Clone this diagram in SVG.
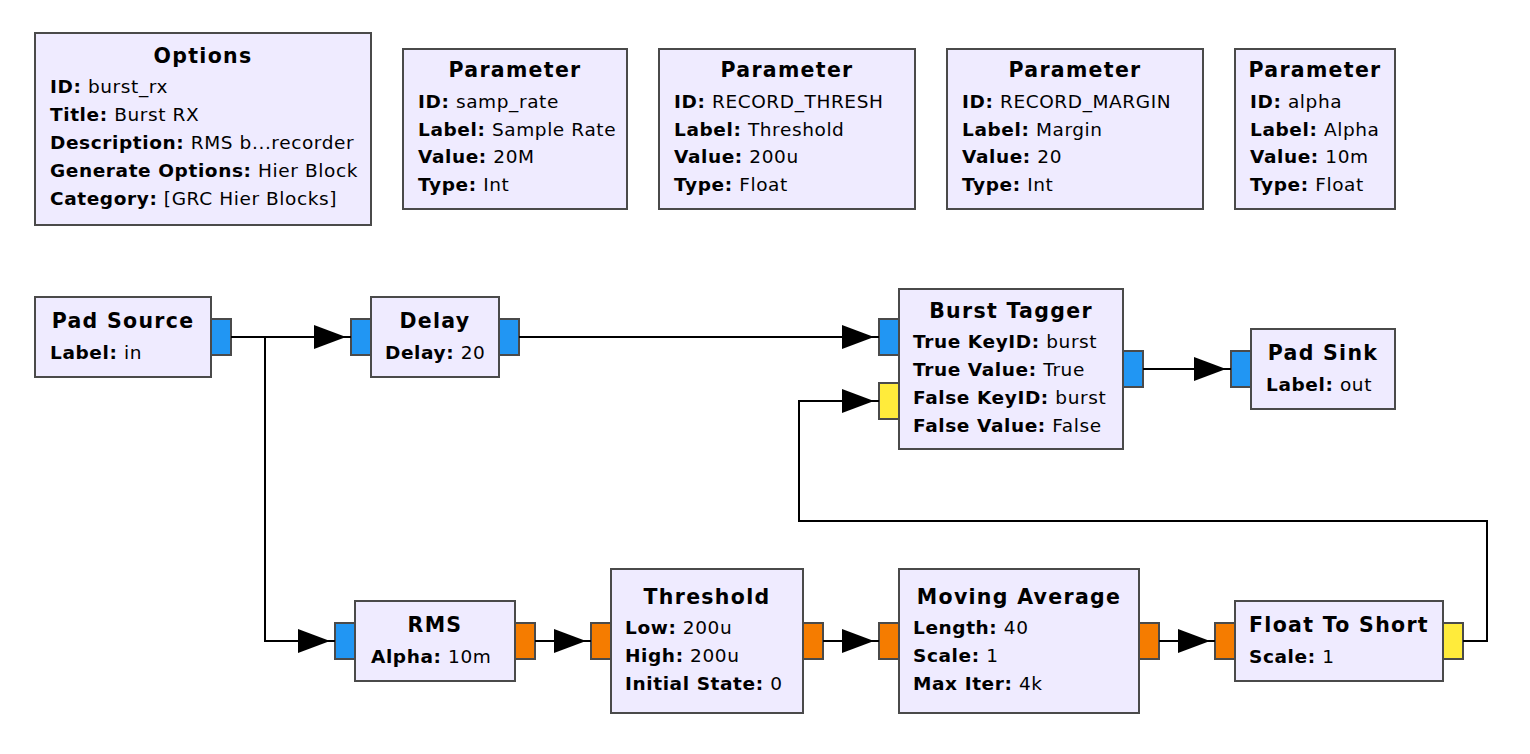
<svg xmlns="http://www.w3.org/2000/svg" width="1530" height="754" viewBox="0 0 1530 754">
<defs>
<style>
.box{fill:#EFEBFF;stroke:#4a4a4a;stroke-width:2}
.pb{fill:#2196F3;stroke:#4a4a4a;stroke-width:2}
.po{fill:#F57C00;stroke:#4a4a4a;stroke-width:2}
.py{fill:#FFEB3B;stroke:#4a4a4a;stroke-width:2}
.t{font-family:"DejaVu Sans","Liberation Sans",sans-serif;font-weight:bold;font-size:20.5px;letter-spacing:1.3px;text-anchor:middle;fill:#000}
.p{font-family:"DejaVu Sans","Liberation Sans",sans-serif;font-size:18.5px;letter-spacing:0.6px;fill:#000}
.p tspan.k{font-weight:bold}
.w{fill:none;stroke:#000;stroke-width:2}
.ah{fill:#000}
</style>
</defs>
<rect width="1530" height="754" fill="#fff"/>

<g id="options">
<rect class="box" x="35" y="33" width="336" height="192"/>
<text class="t" x="203" y="63">Options</text>
<text class="p" x="50" y="93"><tspan class="k">ID:</tspan> burst_rx</text>
<text class="p" x="50" y="121"><tspan class="k">Title:</tspan> Burst RX</text>
<text class="p" x="50" y="149"><tspan class="k">Description:</tspan> RMS b...recorder</text>
<text class="p" x="50" y="177"><tspan class="k">Generate Options:</tspan> Hier Block</text>
<text class="p" x="50" y="205"><tspan class="k">Category:</tspan> [GRC Hier Blocks]</text>
</g>

<g id="param_samp_rate">
<rect class="box" x="403" y="49" width="224" height="160"/>
<text class="t" x="515" y="77">Parameter</text>
<text class="p" x="418" y="108"><tspan class="k">ID:</tspan> samp_rate</text>
<text class="p" x="418" y="136"><tspan class="k">Label:</tspan> Sample Rate</text>
<text class="p" x="418" y="163"><tspan class="k">Value:</tspan> 20M</text>
<text class="p" x="418" y="191"><tspan class="k">Type:</tspan> Int</text>
</g>

<g id="param_record_thresh">
<rect class="box" x="659" y="49" width="256" height="160"/>
<text class="t" x="787" y="77">Parameter</text>
<text class="p" x="674" y="108"><tspan class="k">ID:</tspan> RECORD_THRESH</text>
<text class="p" x="674" y="136"><tspan class="k">Label:</tspan> Threshold</text>
<text class="p" x="674" y="163"><tspan class="k">Value:</tspan> 200u</text>
<text class="p" x="674" y="191"><tspan class="k">Type:</tspan> Float</text>
</g>

<g id="param_record_margin">
<rect class="box" x="947" y="49" width="256" height="160"/>
<text class="t" x="1075" y="77">Parameter</text>
<text class="p" x="962" y="108"><tspan class="k">ID:</tspan> RECORD_MARGIN</text>
<text class="p" x="962" y="136"><tspan class="k">Label:</tspan> Margin</text>
<text class="p" x="962" y="163"><tspan class="k">Value:</tspan> 20</text>
<text class="p" x="962" y="191"><tspan class="k">Type:</tspan> Int</text>
</g>

<g id="param_alpha">
<rect class="box" x="1235" y="49" width="160" height="160"/>
<text class="t" x="1315" y="77">Parameter</text>
<text class="p" x="1250" y="108"><tspan class="k">ID:</tspan> alpha</text>
<text class="p" x="1250" y="136"><tspan class="k">Label:</tspan> Alpha</text>
<text class="p" x="1250" y="163"><tspan class="k">Value:</tspan> 10m</text>
<text class="p" x="1250" y="191"><tspan class="k">Type:</tspan> Float</text>
</g>

<g id="pad_source">
<rect class="box" x="35" y="297" width="176" height="80"/>
<rect class="pb" x="211" y="319" width="20" height="36"/>
<text class="t" x="123" y="328">Pad Source</text>
<text class="p" x="50" y="359"><tspan class="k">Label:</tspan> in</text>
</g>

<g id="delay">
<rect class="box" x="371" y="297" width="128" height="80"/>
<rect class="pb" x="351" y="319" width="20" height="36"/>
<rect class="pb" x="499" y="319" width="20" height="36"/>
<text class="t" x="435" y="328">Delay</text>
<text class="p" x="385" y="359"><tspan class="k">Delay:</tspan> 20</text>
</g>

<g id="burst_tagger">
<rect class="box" x="899" y="289" width="224" height="160"/>
<rect class="pb" x="879" y="319" width="20" height="36"/>
<rect class="py" x="879" y="383" width="20" height="36"/>
<rect class="pb" x="1123" y="351" width="20" height="36"/>
<text class="t" x="1011" y="318">Burst Tagger</text>
<text class="p" x="913" y="348"><tspan class="k">True KeyID:</tspan> burst</text>
<text class="p" x="913" y="376"><tspan class="k">True Value:</tspan> True</text>
<text class="p" x="913" y="404"><tspan class="k">False KeyID:</tspan> burst</text>
<text class="p" x="913" y="432"><tspan class="k">False Value:</tspan> False</text>
</g>

<g id="pad_sink">
<rect class="box" x="1251" y="329" width="144" height="80"/>
<rect class="pb" x="1231" y="351" width="20" height="36"/>
<text class="t" x="1323" y="360">Pad Sink</text>
<text class="p" x="1266" y="391"><tspan class="k">Label:</tspan> out</text>
</g>

<g id="rms">
<rect class="box" x="355" y="601" width="160" height="80"/>
<rect class="pb" x="335" y="623" width="20" height="36"/>
<rect class="po" x="515" y="623" width="20" height="36"/>
<text class="t" x="435" y="632">RMS</text>
<text class="p" x="371" y="663"><tspan class="k">Alpha:</tspan> 10m</text>
</g>

<g id="threshold">
<rect class="box" x="611" y="569" width="192" height="144"/>
<rect class="po" x="591" y="623" width="20" height="36"/>
<rect class="po" x="803" y="623" width="20" height="36"/>
<text class="t" x="707" y="604">Threshold</text>
<text class="p" x="625" y="634"><tspan class="k">Low:</tspan> 200u</text>
<text class="p" x="625" y="662"><tspan class="k">High:</tspan> 200u</text>
<text class="p" x="625" y="690"><tspan class="k">Initial State:</tspan> 0</text>
</g>

<g id="moving_average">
<rect class="box" x="899" y="569" width="240" height="144"/>
<rect class="po" x="879" y="623" width="20" height="36"/>
<rect class="po" x="1139" y="623" width="20" height="36"/>
<text class="t" x="1019" y="604">Moving Average</text>
<text class="p" x="913" y="634"><tspan class="k">Length:</tspan> 40</text>
<text class="p" x="913" y="662"><tspan class="k">Scale:</tspan> 1</text>
<text class="p" x="913" y="690"><tspan class="k">Max Iter:</tspan> 4k</text>
</g>

<g id="float_to_short">
<rect class="box" x="1235" y="601" width="208" height="80"/>
<rect class="po" x="1215" y="623" width="20" height="36"/>
<rect class="py" x="1443" y="623" width="20" height="36"/>
<text class="t" x="1339" y="632">Float To Short</text>
<text class="p" x="1249" y="663"><tspan class="k">Scale:</tspan> 1</text>
</g>

<g id="connectors">
<path class="w" d="M231 337 H351"/>
<polygon class="ah" points="346,337 314,325 314,349"/>
<path class="w" d="M231 337 H265 V641 H335"/>
<polygon class="ah" points="330,641 298,629 298,653"/>
<path class="w" d="M519 337 H879"/>
<polygon class="ah" points="874,337 842,325 842,349"/>
<path class="w" d="M1143 369 H1231"/>
<polygon class="ah" points="1226,369 1194,357 1194,381"/>
<path class="w" d="M535 641 H591"/>
<polygon class="ah" points="586,641 554,629 554,653"/>
<path class="w" d="M823 641 H879"/>
<polygon class="ah" points="874,641 842,629 842,653"/>
<path class="w" d="M1159 641 H1215"/>
<polygon class="ah" points="1210,641 1178,629 1178,653"/>
<path class="w" d="M1463 641 H1487 V521 H799 V401 H879"/>
<polygon class="ah" points="874,401 842,389 842,413"/>
</g>
</svg>
